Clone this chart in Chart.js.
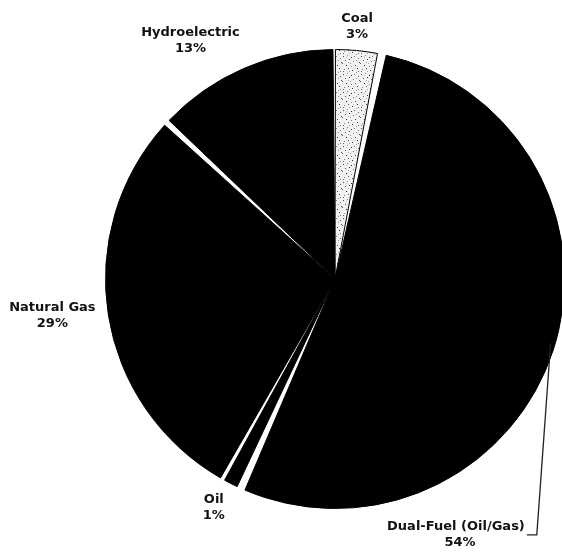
<!DOCTYPE html>
<html>
<head>
<meta charset="utf-8">
<script src="https://cdn.jsdelivr.net/npm/chart.js@4.4.1/dist/chart.umd.min.js"></script>
<style>
  html, body { margin: 0; padding: 0; background: #fff; }
  canvas { display: block; }
</style>
</head>
<body>
<canvas id="c" width="562" height="552"></canvas>
<script>
// Generation mix by fuel type (percent)
const categories = ['Coal', 'Dual-Fuel (Oil/Gas)', 'Oil', 'Natural Gas', 'Hydroelectric'];
const shares = [3, 54, 1, 29, 13];
const valueLabels = ['3%', '54%', '1%', '29%', '13%'];

// Label placement around the pie: angle (deg, clockwise from top) and distance from centre
const labelAngles = [5, 154.7, 207.9, 262.6, 328.8];
const labelDistances = [253, 283, 259, 285, 279];

// Stipple texture for the coal slice
function stipple() {
  const p = document.createElement('canvas');
  p.width = 18; p.height = 18;
  const g = p.getContext('2d');
  g.fillStyle = '#f2f2f2';
  g.fillRect(0, 0, 18, 18);
  const dots = [[1,2,'#444'],[5,1,'#888'],[9,3,'#222'],[14,0,'#999'],[3,6,'#666'],[7,5,'#333'],
                [11,7,'#777'],[0,9,'#555'],[4,11,'#222'],[8,9,'#999'],[13,11,'#444'],[2,15,'#888'],
                [6,14,'#555'],[10,16,'#333'],[16,4,'#666'],[6,8,'#aaa'],[15,14,'#333'],[12,2,'#777'],
                [17,8,'#555'],[9,12,'#888'],[1,17,'#666'],[14,6,'#999'],[4,3,'#bbb'],[11,14,'#bbb'],
                [16,17,'#777'],[7,17,'#aaa']];
  dots.forEach(([x, y, col]) => { g.fillStyle = col; g.fillRect(x, y, 1, 1); });
  return g.createPattern(p, 'repeat');
}

const labelPlugin = {
  id: 'sliceLabels',
  afterDatasetsDraw(chart) {
    const ctx = chart.ctx;
    const arcs = chart.getDatasetMeta(0).data;
    const cx = arcs[0].x, cy = arcs[0].y;
    ctx.save();
    ctx.fillStyle = '#111';
    ctx.font = 'bold 13px "DejaVu Sans", sans-serif';
    ctx.textAlign = 'center';
    ctx.textBaseline = 'middle';
    categories.forEach((name, i) => {
      const a = labelAngles[i] * Math.PI / 180;
      const x = cx + Math.sin(a) * labelDistances[i];
      const y = cy - Math.cos(a) * labelDistances[i];
      ctx.fillText(name, x, y - 8);
      ctx.fillText(valueLabels[i], x + (i === 1 ? 4 : 0), y + 8);
      if (i === 1) {
        // leader from the label up to the slice edge
        const w = ctx.measureText(name).width;
        const ex = x + w / 2 + 2;
        const r = arcs[1].outerRadius;
        const ta = 106.6 * Math.PI / 180;
        ctx.strokeStyle = '#222';
        ctx.lineWidth = 1.3;
        ctx.beginPath();
        ctx.moveTo(ex, y);
        ctx.lineTo(ex + 10, y);
        ctx.lineTo(cx + Math.sin(ta) * (r - 2), cy - Math.cos(ta) * (r - 2));
        ctx.stroke();
      }
    });
    ctx.restore();
  }
};

new Chart(document.getElementById('c'), {
  type: 'pie',
  data: {
    labels: categories,
    datasets: [{
      data: shares,
      backgroundColor: [stipple(), '#000', '#000', '#000', '#000'],
      borderColor: '#000',
      borderWidth: 1,
      spacing: 5
    }]
  },
  options: {
    responsive: false,
    animation: false,
    devicePixelRatio: 1,
    radius: 227,
    layout: { padding: { left: 108, right: 0, top: 40, bottom: 34 } },
    plugins: { legend: { display: false }, tooltip: { enabled: false } }
  },
  plugins: [labelPlugin]
});
</script>
</body>
</html>
